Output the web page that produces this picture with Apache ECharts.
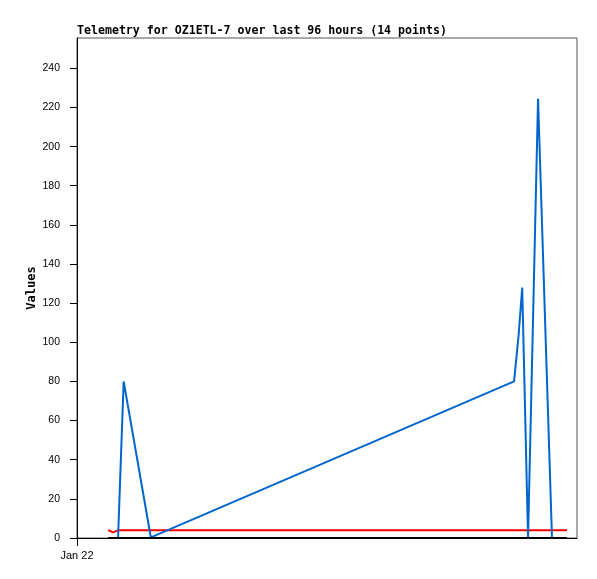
<!DOCTYPE html>
<html>
<head>
<meta charset="utf-8">
<script src="https://cdn.jsdelivr.net/npm/echarts@6/dist/echarts.min.js"></script>
<style>html,body{margin:0;padding:0;background:#fff}#c{width:597px;height:579px}</style>
</head>
<body>
<div id="c"></div>
<script>
// hours since Jan 22 00:00
var times = [1.49, 1.73, 1.97, 2.24, 3.54, 3.66, 20.98, 21.20, 21.37, 21.65, 22.13, 22.80, 23.10, 23.52];
var blueValues = [0, 0, 0, 80, 0.5, 0.8, 80, 104, 128, 0, 224.5, 0, 0, 0];
var redValues = [4.0, 2.9, 3.9, 3.9, 3.9, 3.9, 3.9, 3.9, 3.9, 3.9, 3.9, 3.9, 3.9, 3.9];
var blackValues = [0, 0, 0, 0, 0, 0, 0, 0, 0, 0, 0, 0, 0, 0];
var yTicks = [0, 20, 40, 60, 80, 100, 120, 140, 160, 180, 200, 220, 240];
var xTickLabels = ['Jan 22'];
var xTickValues = [0];

function pairs(vals) { return times.map(function (t, i) { return [t, vals[i]]; }); }

var chart = echarts.init(document.getElementById('c'), null, {renderer: 'canvas'});
chart.setOption({
  animation: false,
  backgroundColor: '#fff',
  title: {
    text: 'Telemetry for OZ1ETL-7 over last 96 hours (14 points)',
    left: 72, top: 20,
    textStyle: {fontFamily: 'DejaVu Sans Mono', fontWeight: 'bold', fontSize: 11.6, color: '#000'}
  },
  grid: {left: 77, right: 20, top: 38, bottom: 41, show: true, borderColor: '#555', borderWidth: 1, backgroundColor: 'transparent'},
  xAxis: {
    type: 'value', min: 0, max: 24,
    axisLine: {show: true, onZero: false, lineStyle: {color: '#000', width: 1}},
    axisTick: {show: true, length: 8, customValues: xTickValues, lineStyle: {color: '#000'}},
    axisLabel: {customValues: xTickValues, margin: 12, fontFamily: 'Liberation Sans', fontSize: 11, color: '#000',
      formatter: function (v) { var i = xTickValues.indexOf(v); return i >= 0 ? xTickLabels[i] : ''; }},
    splitLine: {show: false}
  },
  yAxis: {
    type: 'value', min: 0, max: 255.5,
    name: 'Values', nameLocation: 'middle', nameGap: 39, nameRotate: 90, nameMoveOverlap: false,
    nameTextStyle: {fontFamily: 'DejaVu Sans Mono', fontWeight: 'bold', fontSize: 12, color: '#000'},
    axisLine: {show: true, lineStyle: {color: '#000', width: 1}},
    axisTick: {show: true, length: 7, customValues: yTicks, lineStyle: {color: '#000'}},
    axisLabel: {customValues: yTicks, margin: 17, fontFamily: 'Liberation Sans', fontSize: 10.5, color: '#000'},
    splitLine: {show: false}
  },
  series: [
    {type: 'line', data: pairs(redValues), showSymbol: false, lineStyle: {color: '#ff0000', width: 2}, z: 2},
    {type: 'line', data: pairs(blueValues), showSymbol: false, lineStyle: {color: '#0066cc', width: 2}, z: 3},
    {type: 'line', data: pairs(blackValues), showSymbol: false, lineStyle: {color: '#000000', width: 2}, z: 4}
  ]
});
</script>
</body>
</html>
